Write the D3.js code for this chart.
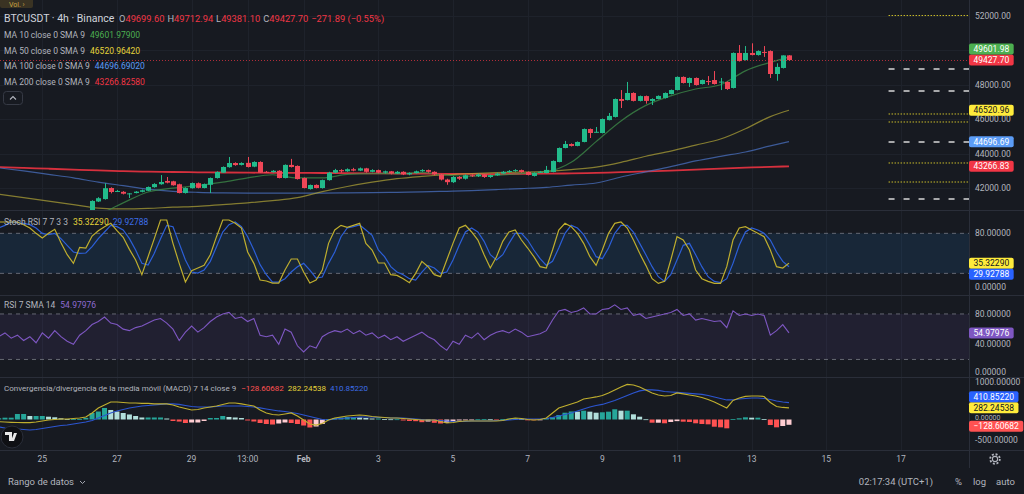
<!DOCTYPE html>
<html><head><meta charset="utf-8">
<script src="https://cdn.jsdelivr.net/npm/d3@7"></script>
<style>
html,body{margin:0;padding:0;background:#171a21;}
svg{display:block;}
text{font-family:Roboto,"Noto Sans",sans-serif;}
</style></head><body>
<svg id="c" width="1024" height="494"></svg>
<script>
// ---------- DATA ----------
const symbolTitle = "BTCUSDT · 4h · Binance";
const ohlcLast = {o:"49699.60", h:"49712.94", l:"49381.10", c:"49427.70", chg:"−271.89 (−0.55%)"};
const firstBar = "2024-01-23 20:00";          // first bar of indicator series
const candleOffset = 15;                       // first visible candle (bars after firstBar)
const open  = [40650,41230,41370,42010,41830,41790,41670,41720,41790,41850,42060,42230,42420,42400,42230,41720,42000,42290,42010,42200,42590,42900,43220,43460,43350,43470,43250,43520,42950,42930,43010,42590,43350,43290,42590,41950,42190,42010,
 42470,42900,43050,42980,43100,43020,43150,42950,43050,42900,42980,42850,42950,42800,42880,42980,43050,42950,42800,42500,42350,42650,42550,42750,42700,42800,42650,42750,42850,42950,43000,43050,
 42940,42710,42930,42880,42940,43520,44330,44560,44450,44680,45430,45240,45200,45950,46130,47170,47110,47520,47060,47340,47060,47170,47230,47460,47690,48450,48100,48390,48040,48210,48270,48130,48160,47810,49840,49430,49840,49720,49900,49950,48620,48970,49699.60];
const high  = [41300,41480,42290,42050,41900,41830,41720,41830,41920,42100,42290,42760,42650,42430,42260,42050,42330,42330,42270,42620,42980,43260,43810,43500,43500,43810,43560,43560,43000,43050,43040,43380,43700,43320,42620,42210,42220,42500,
 42950,43120,43100,43150,43180,43200,43180,43100,43080,43020,43000,43000,42980,42920,43020,43100,43080,42980,42830,42550,42700,42700,42800,42800,42850,42820,42780,42900,43000,43050,43100,43080,
 42970,42920,43000,43290,43610,44360,44740,44600,44710,45460,45460,45550,46040,46360,47200,47690,48160,47560,47370,47370,47210,47380,47550,47720,48480,48480,48420,48420,48300,48500,48790,48390,48190,49870,50300,50240,50400,49990,50240,49990,49240,49700,49712.94];
const low   = [40550,41200,41340,41700,41780,41640,41430,41700,41760,41830,42030,42200,42280,42150,41700,41690,41980,41990,41990,41720,42560,42880,43190,43300,43320,43200,43220,42880,42880,42900,42570,42570,43200,42500,41990,41920,41990,41980,
 42440,42870,42900,42950,42980,42990,42900,42920,42860,42850,42800,42820,42760,42750,42850,42950,42900,42750,42450,42200,42300,42480,42500,42650,42650,42600,42600,42720,42820,42900,42950,42900,
 42740,42680,42900,42860,42920,43500,44310,44420,44430,44660,44910,45230,45180,45930,46100,46650,47090,47030,47030,46900,46820,47150,47200,47440,47670,48070,47870,47950,48010,47980,48010,47690,47700,47780,49340,49400,49700,49690,49610,48390,48230,48940,49381.10];
const close = [41260,41420,42000,41780,41840,41680,41700,41800,41880,42070,42240,42360,42320,42170,41720,42010,42300,42020,42240,42590,42940,43230,43460,43340,43460,43230,43520,42900,42930,43010,42590,43350,43230,42530,42010,42185,42010,42470,
 42900,43050,42980,43100,43020,43150,42950,43050,42900,42980,42850,42950,42800,42880,42980,43050,42950,42800,42500,42350,42650,42550,42750,42700,42800,42650,42750,42850,42950,43000,43050,42940,
 42770,42880,42950,43060,43580,44330,44560,44450,44680,45430,45200,45270,46010,46190,47170,47060,47520,47060,47340,47060,47170,47350,47520,47690,48450,48100,48390,47980,48270,48160,48040,48180,47750,49840,49370,49840,49720,49950,49870,48620,49030,49700,49427.70];

// moving averages, sampled every few bars (bar number from firstBar)
const maBar   = [0,4,8,12,16,20,24,28,32,36,40,44,48,52,56,60,64,68,72,76,80,84,88,92,96,100,104,108,112,116,120,124,127];
const ma10  = [39900,39900,40000,40300,40500,41150,41780,42000,42150,42350,42600,42780,42600,42600,42800,42850,42850,42900,42750,42700,42750,42850,42950,43500,44700,45900,46800,47350,47750,48000,48800,49300,49601.98];
const ma50  = [41650,41450,41250,41050,40850,40800,40830,40900,40950,41050,41150,41280,41450,41800,42100,42350,42550,42680,42780,42850,42900,42930,42980,43080,43220,43500,43850,44150,44500,44850,45450,46150,46520.96];
const ma100 = [43180,43000,42800,42600,42350,42150,41950,41820,41760,41730,41720,41720,41720,41720,41730,41740,41760,41790,41820,41860,41920,41980,42050,42180,42300,42650,42950,43250,43580,43850,44100,44450,44696.69];
const ma200 = [43230,43180,43130,43080,43030,42990,42960,42940,42920,42910,42900,42890,42885,42880,42870,42860,42850,42840,42830,42825,42820,42825,42840,42860,42890,42930,42970,43020,43080,43140,43190,43240,43266.83];

// oscillators, one value per bar from firstBar
const stochK = [97,97,97,97,93,88,80, 73,80,86,66,48,35,59,58, 76,84,90,95,84,74,56,40, 18,45,72,100,100,65,35,7, 24,28,32,48,75,100,100,95, 88,52,35,10,8.5,5.5,5.5,25, 41.5,41.5,22,5.5,10,25,65,85, 92,89,92,95,65,55,35.5,35.5, 18,17,12,6,20,38,30,18, 15,40,65,88,92,82,70,48, 28,45,68,82,85,70,58,45, 30,28,55,85,95,90,80,65, 45,32,55,80,95,97,88,70, 50,32,12,5,8,40,75,70, 55,25,12,8,5,5,30,70, 88,90,85,80,75,55,30,28, 35.32290];
const stochD = [88,92,97,96,95,93,88, 80,78,80,72,62,52,50,50.5, 60,72,82,92,90,85,72,55, 35,32.5,50,72,92,90,65,40, 22,20.5,25,38,60,82,93,97, 90,75,55,33,18,7,7,12, 22,30,35,25,13,14.5,35,52, 75,88,90,92.5,85,77,55,45, 30,22,18,12,10,22,32,28, 20,22,40,62,82,88,82,68, 48,40,48,65,80,80,70,55, 42,32,38,58,80,92,88,78, 62,45,42,58,80,92,92,82, 65,48,30,15,8,18,40,62, 65,48,30,15,8,6,12,35, 62,82,88,85,80,70,52,38, 29.92788];
const rsi    = [50,55,48,52,45,50,42, 55,48,58,50,44,40,52,58, 66,70,76,68,66,60,58,62, 64,68,72,74,68,60,45,56, 64,56,62,70,76,80,82,74, 76,70,74,52,50,52,40,60, 56,38,30,38,35,50,55,58, 56,60,54,58,52,55,48,52, 46,50,44,48,52,56,50,46, 38,32,44,40,52,48,55,46, 52,56,58,55,60,56,50,52, 54,58,72,84,86,82,84,88, 80,80,86,87,92,86,88,78, 80,74,76,78,80,82,86,78, 80,72,74,72,70,71,62,84, 78,80,78,80,78,52,58,66, 54.97976];
const macd   = [-53,-61,-68,-73,-75,-78,-61, -36,-12,0,12,12,24,36,61, 158,280,352,425,425,413,400,400, 389,389,377,377,377,352,304,267, 231,243,280,304,328,365,400,400, 377,352,328,231,158,122,109,134, 158,85,-12,-109,-134,-97,-12,36, 61,85,97,109,97,73,61,49, 36,36,24,12,0,-12,-12,-12, -49,-85,-73,-49,-36,-36,-36,-36, -36,-36,-24,12,36,24,0,-12, 0,36,158,280,328,377,425,498, 522,547,583,644,717,790,851,838, 790,717,644,595,571,583,644,620, 595,571,535,486,425,352,280,462, 522,559,571,571,559,413,316,292, 282.24538];
const signal = [-182,-207,-219,-231,-243,-255,-243, -219,-194,-170,-146,-134,-109,-85,-61, -24,36,97,158,207,243,280,304, 328,340,352,365,377,377,365,340, 316,304,304,304,316,328,328,328, 328,316,304,280,255,231,207,194, 170,146,109,73,36,0,-12,12, 24,36,49,61,61,61,49,49, 36,36,36,24,12,0,-12,-12, -24,-36,-49,-49,-49,-36,-36,-36, -36,-24,-24,-12,0,12,12,12, 12,24,49,85,122,158,207,255, 304,340,365,413,462,522,583,644, 693,717,717,705,680,668,656,644, 632,620,608,583,547,510,474,474, 498,510,522,522,510,486,449,425, 410.85220];
const hist   = [30,44,44,134,134,85,85, 85,68,54,29,12,12,12,40, 158,194,280,231,194,158,122,85, 49,49,49,49,24,-36,-50,-85, -73,-73,-36,36,36,85,61,49, 36,-24,-49,-85,-109,-122,-97,-73, -85,-109,-146,-194,-170,-109,12,36, 49,61,61,49,36,24,24,12, 5,5,-24,-36,-41,-65,-50,-80, -97,-80,-50,-24,-12,-5,5,10, 5,-5,10,20,30,15,-10,-15, -5,36,56,109,165,195,190,214, 190,165,175,190,248,214,214,126, 68,5,-78,-78,-92,-60,-40,-53, -60,-92,-109,-117,-175,-190,-214,10, 29,53,44,44,10,-134,-190,-158, -128.60682];

// axis ticks
const priceTicks = [42000,44000,46000,48000,52000];
const priceGrid  = [42000,44000,46000,48000,50000,52000];
const timeTicks  = ["2024-01-25 00:00","2024-01-27 00:00","2024-01-29 00:00","2024-01-30 12:00","2024-02-01 00:00","2024-02-03 00:00","2024-02-05 00:00","2024-02-07 00:00","2024-02-09 00:00","2024-02-11 00:00","2024-02-13 00:00","2024-02-15 00:00","2024-02-17 00:00"];
const timeLabels = ["25","27","29","13:00","Feb","3","5","7","9","11","13","15","17"];
// drawn horizontal levels (right side)
const levelStart   = "2024-02-16 16:00";
const dashedLevels = [48910,47635,44678,41374];
const dottedLevels = [52010,46302,45838,43461,42359];

// ---------- CHART ----------
const W=1024,H=494,R=969;
const BG="#171a21", GRID="#1e222b", SEP="#2a2e39", TXT="#b2b5be";
const parse=d3.timeParse("%Y-%m-%d %H:%M");
const t0=parse(firstBar);
const bt=k=>new Date(t0.getTime()+k*4*3600e3);
const svg=d3.select("#c");
svg.append("rect").attr("width",W).attr("height",H).attr("fill",BG);

const x=d3.scaleTime().domain([parse("2024-01-25 00:00"),parse("2024-02-17 00:00")]).range([42.3,901]);
const panes={
  main:{top:0,bot:210},
  stoch:{top:211,bot:295},
  rsi:{top:296,bot:377},
  macd:{top:378,bot:450}
};
const yP=d3.scaleLinear().domain([42000,52000]).range([188.2,15.7]);
const yS=d3.scaleLinear().domain([0,100]).range([286.7,220]);
const yR=d3.scaleLinear().domain([0,100]).range([374.6,298.8]);
const yM=d3.scaleLinear().domain([-500,1000]).range([440.1,378.3]);

const defs=svg.append("defs");
Object.entries(panes).forEach(([k,p])=>{
  defs.append("clipPath").attr("id","clip-"+k).append("rect").attr("x",0).attr("y",p.top).attr("width",R).attr("height",p.bot-p.top);
});
const g=k=>svg.append("g").attr("clip-path","url(#clip-"+k+")");

// grid
const gridG=svg.append("g");
timeTicks.forEach(s=>{const xx=Math.round(x(parse(s)))+0.5;
  gridG.append("line").attr("x1",xx).attr("x2",xx).attr("y1",0).attr("y2",450).attr("stroke",GRID);});
priceGrid.forEach(v=>{const yy=Math.round(yP(v))+0.5;
  gridG.append("line").attr("x1",0).attr("x2",R).attr("y1",yy).attr("y2",yy).attr("stroke",GRID);});

// ---- main pane
const gm=g("main");
const maLine=d3.line().x((d,i)=>x(bt(maBar[i]))).y(d=>yP(d)).curve(d3.curveMonotoneX);
[[ma200,"#e0323f",1.8,0.95],[ma100,"#4a70c0",1.2,0.75],[ma50,"#b3a637",1.2,0.7],[ma10,"#3f8f4a",1.2,0.75]].forEach(([arr,c,w,o])=>{
  gm.append("path").attr("d",maLine(arr)).attr("fill","none").attr("stroke",c).attr("stroke-width",w).attr("stroke-opacity",o);
});
const UP="#22bb8b", DN="#ef4657";
const candles=open.map((o,j)=>({t:bt(candleOffset+j),o,h:high[j],l:low[j],c:close[j]}));
const cg=gm.append("g");
candles.forEach(d=>{
  const cx=Math.round(x(d.t))+0.5, col=d.c>=d.o?UP:DN;
  cg.append("line").attr("x1",cx).attr("x2",cx).attr("y1",yP(d.h)).attr("y2",yP(d.l)).attr("stroke",col).attr("stroke-width",1);
  const y1=yP(Math.max(d.o,d.c)), y2=yP(Math.min(d.o,d.c));
  cg.append("rect").attr("x",cx-2.5).attr("width",5).attr("y",y1).attr("height",Math.max(1,y2-y1)).attr("fill",col);
});
// levels
const lx=x(parse(levelStart));
dashedLevels.forEach(v=>gm.append("line").attr("x1",lx).attr("x2",R).attr("y1",yP(v)).attr("y2",yP(v))
  .attr("stroke","#d8d8d8").attr("stroke-width",1.6).attr("stroke-dasharray","6,9"));
dottedLevels.forEach(v=>gm.append("line").attr("x1",lx).attr("x2",R).attr("y1",yP(v)).attr("y2",yP(v))
  .attr("stroke","#c9bb2a").attr("stroke-width",1).attr("stroke-dasharray","1.5,1.5"));
// last price line
const lastY=Math.round(yP(close[close.length-1]))+0.5;
gm.append("line").attr("x1",0).attr("x2",R).attr("y1",lastY).attr("y2",lastY).attr("stroke","#f23645").attr("stroke-opacity",0.7).attr("stroke-dasharray","1,2");

// ---- stoch pane
const gs=g("stoch");
gs.append("rect").attr("x",0).attr("width",R).attr("y",yS(80)).attr("height",yS(20)-yS(80)).attr("fill","rgba(33,150,243,0.11)");
[80,20].forEach(v=>gs.append("line").attr("x1",0).attr("x2",R).attr("y1",yS(v)).attr("y2",yS(v)).attr("stroke","#787b86").attr("stroke-opacity",0.8).attr("stroke-dasharray","4,4"));
const oscLine=(ys)=>d3.line().x((d,i)=>x(bt(i))).y(d=>ys(d));
gs.append("path").attr("d",oscLine(yS)(stochD)).attr("fill","none").attr("stroke","#2c5fd8").attr("stroke-width",1.2);
gs.append("path").attr("d",oscLine(yS)(stochK)).attr("fill","none").attr("stroke","#bfae2e").attr("stroke-width",1.2);

// ---- rsi pane
const gr=g("rsi");
gr.append("rect").attr("x",0).attr("width",R).attr("y",yR(80)).attr("height",yR(20)-yR(80)).attr("fill","rgba(126,87,194,0.1)");
[80,20].forEach(v=>gr.append("line").attr("x1",0).attr("x2",R).attr("y1",yR(v)).attr("y2",yR(v)).attr("stroke","#787b86").attr("stroke-opacity",0.8).attr("stroke-dasharray","4,4"));
gr.append("path").attr("d",oscLine(yR)(rsi)).attr("fill","none").attr("stroke","#7e57c2").attr("stroke-width",1.1);

// ---- macd pane
const gM=g("macd");
hist.forEach((v,i)=>{
  const prev=i>0?hist[i-1]:v;
  const col=v>=0?(v>=prev?"#26a69a":"#b2dfdb"):(v<prev?"#ff5252":"#ffcdd2");
  const y0=yM(0), y1=yM(v);
  gM.append("rect").attr("x",x(bt(i))-2.5).attr("width",5).attr("y",Math.min(y0,y1)).attr("height",Math.max(0.8,Math.abs(y1-y0))).attr("fill",col);
});
gM.append("path").attr("d",oscLine(yM)(signal)).attr("fill","none").attr("stroke","#2c55d0").attr("stroke-width",1.2);
gM.append("path").attr("d",oscLine(yM)(macd)).attr("fill","none").attr("stroke","#bfae2e").attr("stroke-width",1.2);

// separators
[210.5,295.5,377.5,450.5].forEach(yy=>svg.append("line").attr("x1",0).attr("x2",W).attr("y1",yy).attr("y2",yy).attr("stroke",SEP));
svg.append("line").attr("x1",R+0.5).attr("x2",R+0.5).attr("y1",0).attr("y2",468).attr("stroke",SEP);

// right axis tick labels
const axT=(yy,s,fs)=>svg.append("text").attr("x",975).attr("y",yy+3).attr("font-size",fs||8.5).attr("fill",TXT).text(s);
priceTicks.forEach(v=>axT(yP(v),v.toFixed(2)));
axT(yS(80),"80.00000"); axT(yS(0),"0.00000");
axT(yR(80),"80.00000"); axT(yR(40),"40.00000"); axT(yR(0)-3,"0.00000");
axT(yM(1000)+4,"1000.00000"); axT(yM(0)-3,"0.00000",7); axT(yM(-500),"-500.00000");

// value labels
function labels(list){
  const placed=[];
  list.forEach(L=>{
    let yy=L.y;
    placed.forEach(p=>{ if(Math.abs(yy-p)<11){ yy = yy<p? p-11 : p+11; } });
    placed.push(yy);
    const t=svg.append("text").attr("x",973.5).attr("y",yy+3).attr("font-size",8.5).attr("fill",L.tc||"#fff").text(L.s);
    const w=t.node().getComputedTextLength();
    svg.append("rect").attr("x",969).attr("y",yy-5.5).attr("width",w+9).attr("height",11).attr("rx",2).attr("fill",L.c);
    t.raise();
  });
}
labels([
  {y:yP(close[close.length-1]),s:close[close.length-1].toFixed(2),c:"#f23645"},
  {y:yP(ma10[ma10.length-1]),s:ma10[ma10.length-1].toFixed(2),c:"#4caf50"},
  {y:yP(ma50[ma50.length-1]),s:ma50[ma50.length-1].toFixed(2),c:"#ffeb3b",tc:"#131722"},
  {y:yP(ma100[ma100.length-1]),s:ma100[ma100.length-1].toFixed(2),c:"#5b9cf6"},
  {y:yP(ma200[ma200.length-1]),s:ma200[ma200.length-1].toFixed(2),c:"#f23645"}
]);
labels([
  {y:yS(stochK[stochK.length-1]),s:stochK[stochK.length-1].toFixed(5),c:"#ffeb3b",tc:"#131722"},
  {y:yS(stochD[stochD.length-1]),s:stochD[stochD.length-1].toFixed(5),c:"#2962ff"}
]);
labels([{y:yR(rsi[rsi.length-1]),s:rsi[rsi.length-1].toFixed(5),c:"#7e57c2"}]);
labels([
  {y:yM(macd[macd.length-1]),s:macd[macd.length-1].toFixed(5),c:"#ffeb3b",tc:"#131722"},
  {y:yM(hist[hist.length-1])+1.5,s:"−"+Math.abs(hist[hist.length-1]).toFixed(5),c:"#ff5252"},
  {y:yM(signal[signal.length-1]),s:signal[signal.length-1].toFixed(5),c:"#2962ff"}
]);

// x axis labels
timeTicks.forEach((s,i)=>svg.append("text").attr("x",x(parse(s))).attr("y",462).attr("text-anchor","middle")
  .attr("font-size",8.5).attr("font-weight",timeLabels[i]==="Feb"?"bold":null).attr("fill",TXT).text(timeLabels[i]));

// legends
function row(xx,yy,size,parts){
  const t=svg.append("text").attr("x",xx).attr("y",yy).attr("font-size",size);
  parts.forEach(p=>t.append("tspan").attr("fill",p[1]).attr("dx",p[2]||0).text(p[0]));
  return t;
}
// Vol tag
svg.append("rect").attr("x",0).attr("y",-4).attr("width",33).attr("height",12).attr("rx",2).attr("fill","#3a3323");
svg.append("text").attr("x",9).attr("y",6.5).attr("font-size",7).attr("fill","#c9a443").text("Vol. ›");
row(4,22,10.5,[[symbolTitle,"#d1d4dc"]]);
const R2="#f23645";
row(119,21.5,9.3,[["O",TXT],[ohlcLast.o,R2],["H",TXT,3],[ohlcLast.h,R2],["L",TXT,3],[ohlcLast.l,R2],["C",TXT,3],[ohlcLast.c,R2],[ohlcLast.chg,R2,3]]);
const maLeg=[["MA 10 close 0 SMA 9","49601.97900","#4caf50",37.8],["MA 50 close 0 SMA 9","46520.96420","#e6d43a",53.8],["MA 100 close 0 SMA 9","44696.69020","#5b9cf6",69],["MA 200 close 0 SMA 9","43266.82580","#f23645",85]];
maLeg.forEach(m=>row(4,m[3],8.5,[[m[0],TXT],[m[1],m[2],5]]));
svg.append("rect").attr("x",3.5).attr("y",91.5).attr("width",19).attr("height",13).attr("rx",3).attr("fill","none").attr("stroke","#363a45");
svg.append("path").attr("d","M10,99.5 L13,96.5 L16,99.5").attr("fill","none").attr("stroke",TXT).attr("stroke-width",1.1);

row(4,224.5,8.5,[["Stoch RSI 7 7 3 3",TXT],["35.32290","#e6d43a",5],["29.92788","#3d6ee8",4]]);
row(4,308,8.5,[["RSI 7 SMA 14",TXT],["54.97976","#8e6ad0",5]]);
row(4,390.5,8,[["Convergencia/divergencia de la media móvil (MACD) 7 14 close 9",TXT],["−128.60682","#ff5252",5],["282.24538","#e6d43a",4],["410.85220","#3d6ee8",4]]);

// TV logo
svg.append("circle").attr("cx",12).attr("cy",437).attr("r",11).attr("fill","#0f1014").attr("stroke","#2a2e39");
svg.append("path").attr("d","M5,432 h7 v9 h-3 v-6 h-4 z M14,433 h3 l-3,8 h-3 z").attr("fill","#e8e8e8");

// bottom bar
svg.append("text").attr("x",8).attr("y",485).attr("font-size",9.5).attr("fill",TXT).text("Rango de datos");
svg.append("path").attr("d","M80,481 l2.5,2.5 l2.5,-2.5").attr("fill","none").attr("stroke",TXT).attr("stroke-width",0.9);
svg.append("text").attr("x",933).attr("y",485).attr("text-anchor","end").attr("font-size",9.5).attr("fill",TXT).text("02:17:34 (UTC+1)");
svg.append("text").attr("x",955).attr("y",485).attr("font-size",9.5).attr("fill",TXT).text("%");
svg.append("text").attr("x",973).attr("y",485).attr("font-size",9.5).attr("fill",TXT).text("log");
svg.append("text").attr("x",996).attr("y",485).attr("font-size",9.5).attr("fill",TXT).text("auto");
// gear
svg.append("circle").attr("cx",995).attr("cy",459).attr("r",2.6).attr("fill","none").attr("stroke",TXT).attr("stroke-width",1.1);
svg.append("circle").attr("cx",995).attr("cy",459).attr("r",4.8).attr("fill","none").attr("stroke",TXT).attr("stroke-width",1.8).attr("stroke-dasharray","2,1.77");
</script></body></html>
